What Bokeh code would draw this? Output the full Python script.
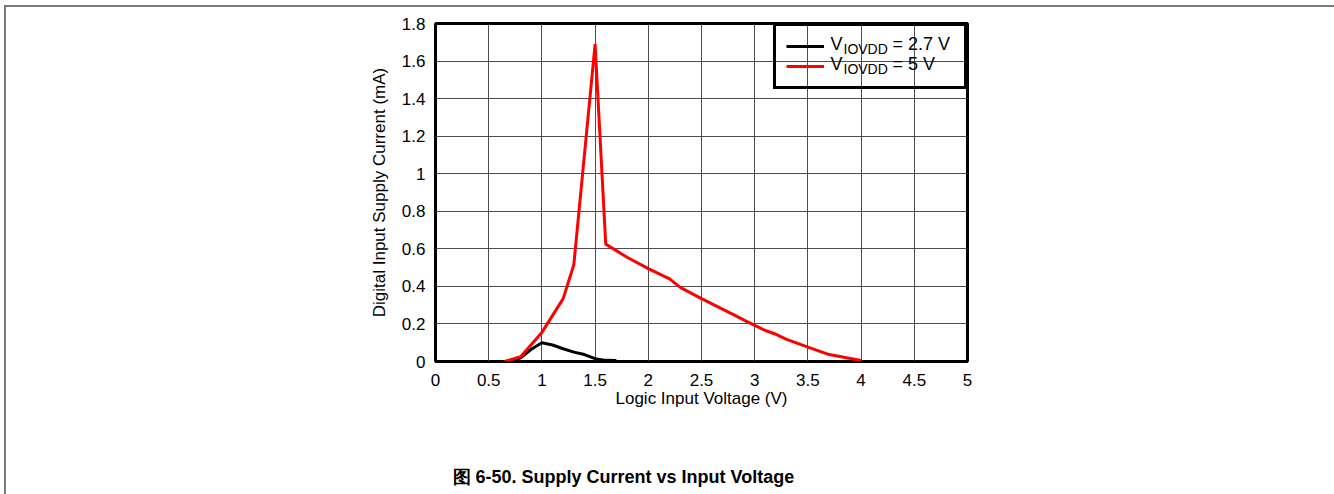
from bokeh.plotting import figure
from bokeh.models import (Range1d, FixedTicker, Legend, LegendItem, Label, InlineStyleSheet)
from bokeh.embed import file_html
from bokeh.resources import INLINE

# ---- data ----
x_black = [0.7, 0.8, 0.9, 1.0, 1.1, 1.2, 1.3, 1.4, 1.5, 1.6, 1.7]
y_black = [0.0, 0.02, 0.065, 0.1, 0.088, 0.068, 0.05, 0.037, 0.015, 0.006, 0.005]

x_red = [0.65, 0.8, 1.0, 1.2, 1.3, 1.5, 1.6, 1.8, 2.0, 2.2, 2.3, 2.5, 2.8, 2.9,
         3.1, 3.2, 3.3, 3.5, 3.7, 4.0]
y_red = [0.0, 0.025, 0.155, 0.335, 0.515, 1.69, 0.625, 0.555, 0.495, 0.44, 0.395,
         0.335, 0.25, 0.22, 0.165, 0.145, 0.118, 0.077, 0.037, 0.005]

x_ticks = [0, 0.5, 1, 1.5, 2, 2.5, 3, 3.5, 4, 4.5, 5]
x_tick_labels = ["0", "0.5", "1", "1.5", "2", "2.5", "3", "3.5", "4", "4.5", "5"]
y_ticks = [0, 0.2, 0.4, 0.6, 0.8, 1.0, 1.2, 1.4, 1.6, 1.8]
y_tick_labels = ["0", "0.2", "0.4", "0.6", "0.8", "1", "1.2", "1.4", "1.6", "1.8"]

series_names = ["2.7 V", "5 V"]
series_colors = ["black", "#FF0000"]
caption = "图 6-50. Supply Current vs Input Voltage"

FONT = "Liberation Sans"

p = figure(width=1326, height=490, output_backend="svg", toolbar_location=None,
           x_range=Range1d(0, 5), y_range=Range1d(0, 1.8),
           min_border_left=435, min_border_right=359,
           min_border_top=23, min_border_bottom=129,
           title_location="below")
p.background_fill_color = "white"
p.border_fill_color = "white"
p.outline_line_color = "black"
p.outline_line_width = 3

p.title.text = caption
p.title.align = "left"
p.title.offset = 17
p.title.standoff = 0
p.title.padding = dict(left=0, right=0, top=54, bottom=0)
p.title.text_font = FONT
p.title.text_font_size = "18px"
p.title.text_font_style = "bold"
p.title.text_color = "black"

for ax in (p.xaxis[0], p.yaxis[0]):
    ax.axis_line_color = None
    ax.major_tick_line_color = None
    ax.minor_tick_line_color = None
    ax.major_tick_out = 0
    ax.major_tick_in = 0
    ax.minor_tick_out = 0
    ax.major_label_text_font = FONT
    ax.major_label_text_font_size = "17px"
    ax.major_label_text_color = "black"
    ax.axis_label_text_font = FONT
    ax.axis_label_text_font_size = "17px"
    ax.axis_label_text_font_style = "normal"
    ax.axis_label_text_color = "black"

p.xaxis.ticker = FixedTicker(ticks=x_ticks)
p.xaxis.major_label_overrides = dict(zip(x_ticks, x_tick_labels))
p.yaxis.ticker = FixedTicker(ticks=y_ticks)
p.yaxis.major_label_overrides = dict(zip(y_ticks, y_tick_labels))
p.xaxis.major_label_standoff = 12
p.yaxis.major_label_standoff = 10
p.xaxis.axis_label = "Logic Input Voltage (V)"
p.yaxis.axis_label = "Digital Input Supply Current (mA)"
p.xaxis.axis_label_standoff = 0
p.yaxis.axis_label_standoff = 10

p.grid.grid_line_color = "#3a3a3a"
p.grid.grid_line_width = 1
p.grid.grid_line_alpha = 0.9

r_black = p.line(x_black, y_black, line_color=series_colors[0], line_width=3)
r_red = p.line(x_red, y_red, line_color=series_colors[1], line_width=3)

legend = Legend(items=[LegendItem(label=" ", renderers=[r_black]),
                       LegendItem(label=" ", renderers=[r_red])],
                location="top_right", margin=0, padding=10, spacing=0,
                glyph_width=38, glyph_height=20, label_height=20,
                label_width=122, label_standoff=8,
                border_line_color="black", border_line_width=3, border_line_alpha=1,
                background_fill_color="white", background_fill_alpha=0)
p.add_layout(legend)

# legend texts with subscript
for i, name in enumerate(series_names):
    cy = 43 + 20 * i
    p.add_layout(Label(x=830, y=cy, x_units="canvas", y_units="canvas",
                       text="V", text_font=FONT, text_font_size="18px",
                       text_baseline="middle", text_color="black", level="overlay"))
    p.add_layout(Label(x=843, y=cy + 5, x_units="canvas", y_units="canvas",
                       text="IOVDD", text_font=FONT, text_font_size="14px",
                       text_baseline="middle", text_color="black", level="overlay"))
    p.add_layout(Label(x=892, y=cy, x_units="canvas", y_units="canvas",
                       text="= " + name, text_font=FONT, text_font_size="18px",
                       text_baseline="middle", text_color="black", level="overlay"))

# outer document frame (gray left/top border)
p.stylesheets = [InlineStyleSheet(css="""
:host::after {
  content: "";
  position: absolute;
  left: 4px; top: 5px; right: -20px; bottom: -20px;
  border-left: 2px solid #7a7a7a;
  border-top: 2px solid #7a7a7a;
  pointer-events: none;
}
""")]

open("out.html", "w").write(file_html(p, INLINE))
